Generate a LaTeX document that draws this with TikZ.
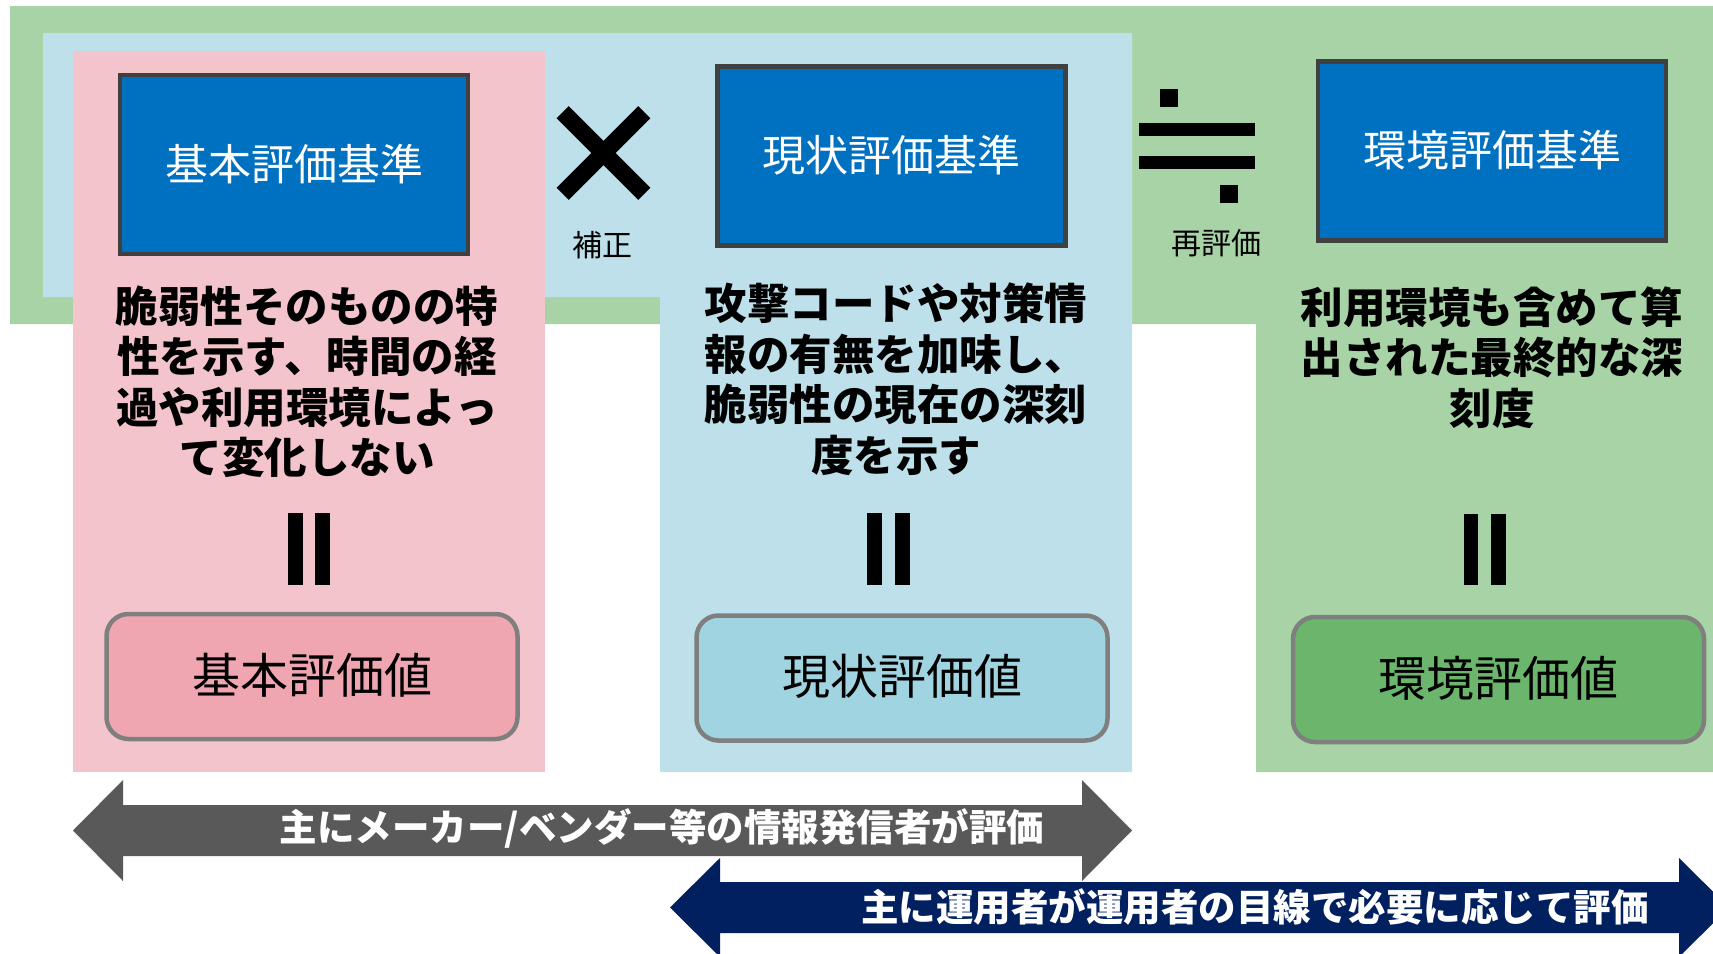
\documentclass[tikz,border=0pt]{standalone}
\usepackage{fontspec}
\setmainfont{Noto Sans CJK JP}
\definecolor{bggreen}{HTML}{A7D3A6}
\definecolor{bgblue}{HTML}{BEE0EA}
\definecolor{bgpink}{HTML}{F4C4CC}
\definecolor{critblue}{HTML}{0070C0}
\definecolor{critborder}{HTML}{404040}
\definecolor{valpink}{HTML}{EFA6B1}
\definecolor{valblue}{HTML}{A1D4E1}
\definecolor{valgreen}{HTML}{6BB56C}
\definecolor{valborder}{HTML}{7F7F7F}
\definecolor{arrowgray}{HTML}{595959}
\definecolor{arrownavy}{HTML}{002060}
\begin{document}
\begin{tikzpicture}[x=1pt,y=-1pt,
  critbox/.style={draw=critborder, line width=4.5pt, fill=critblue, text=white,
    minimum width=348pt, minimum height=179pt, inner sep=0pt,
    font=\fontsize{43}{43}\selectfont},
  valbox/.style={draw=valborder, line width=4.5pt, rounded corners=22pt, text=black,
    minimum width=411pt, minimum height=125pt, inner sep=0pt,
    font=\fontsize{48}{48}\selectfont},
  desc/.style={align=center, inner sep=0pt, text=black,
    font=\fontsize{42.5}{50.5}\selectfont\bfseries},
  oplabel/.style={inner sep=0pt, text=black, font=\fontsize{30}{30}\selectfont},
  arrowtext/.style={inner sep=0pt, text=white, font=\fontsize{37.5}{37.5}\selectfont\bfseries},
  eqbar/.style={fill=black},
]
\useasboundingbox (0,0) rectangle (1713,953);
\clip (0,0) rectangle (1713,953);
% backgrounds
\fill[bggreen] (10,6) -- (1713,6) -- (1713,772) -- (1256,772) -- (1256,324) -- (10,324) -- cycle;
\fill[bgblue] (43,33) -- (1132,33) -- (1132,772) -- (660,772) -- (660,297) -- (43,297) -- cycle;
\fill[bgpink] (73,51) rectangle (545,772);
% criteria boxes
\node[critbox] (kihon) at (294,164.5) {\raisebox{2pt}{基本評価基準}};
\node[critbox] (genjo) at (891.5,156) {\raisebox{6pt}{現状評価基準}};
\node[critbox] (kankyo) at (1492,151) {\raisebox{6pt}{環境評価基準}};
% multiply sign
\draw[line width=17pt, line cap=butt] (562.7,112.2) -- (644.3,193.8);
\draw[line width=17pt, line cap=butt] (644.3,112.2) -- (562.7,193.8);
\node[oplabel] (hosei) at (602,245) {補正};
% divide-like sign
\fill (1160,89) rectangle (1178,107);
\fill (1139,123) rectangle (1255,136);
\fill (1139,156) rectangle (1255,169);
\fill (1220,185) rectangle (1238,203);
\node[oplabel] (saihyoka) at (1216,243) {再評価};
% descriptions
\node[desc] (d1) at (307,381.5) {脆弱性そのものの特\\性を示す、時間の経\\過や利用環境によっ\\て変化しない};
\node[desc] (d2) at (896,379) {攻撃コードや対策情\\報の有無を加味し、\\脆弱性の現在の深刻\\度を示す};
\node[desc] (d3) at (1492,357.5) {利用環境も含めて算\\出された最終的な深\\刻度};
% equal bars
\fill[eqbar] (288,513) rectangle (303,585);
\fill[eqbar] (315,513) rectangle (330,585);
\fill[eqbar] (867,513) rectangle (882,585);
\fill[eqbar] (895,513) rectangle (910,585);
\fill[eqbar] (1464,514) rectangle (1478,585);
\fill[eqbar] (1491,514) rectangle (1506,585);
% value boxes
\node[valbox, fill=valpink] (v1) at (312,676.5) {\raisebox{7pt}{基本評価値}};
\node[valbox, fill=valblue] (v2) at (902,678) {\raisebox{7pt}{現状評価値}};
\node[valbox, fill=valgreen] (v3) at (1498.5,679.5) {\raisebox{7pt}{環境評価値}};
% arrows
\fill[arrowgray] (73,830.5) -- (123,780) -- (123,805) -- (1082,805) -- (1082,780) -- (1132,830.5) -- (1082,881) -- (1082,856) -- (123,856) -- (123,881) -- cycle;
\fill[arrownavy] (670,907.5) -- (720,858) -- (720,882) -- (1679,882) -- (1679,858) -- (1729,907.5) -- (1679,957) -- (1679,933) -- (720,933) -- (720,957) -- cycle;
\node[arrowtext] (maker) at (662,828) {主にメーカー/ベンダー等の情報発信者が評価};
\node[arrowtext] (user) at (1255,906.5) {主に運用者が運用者の目線で必要に応じて評価};
\end{tikzpicture}
\end{document}
